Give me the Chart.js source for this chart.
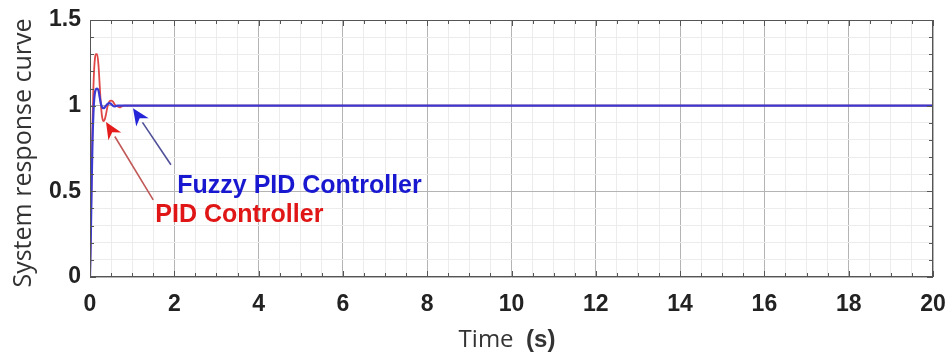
<!DOCTYPE html>
<html><head><meta charset="utf-8">
<script src="https://cdn.jsdelivr.net/npm/chart.js@4.4.1/dist/chart.umd.min.js"></script>
<style>html,body{margin:0;padding:0;background:#fff}#wrap{width:951px;height:356px}</style>
</head><body><div id="wrap"><canvas id="c" width="951" height="356"></canvas></div>
<script>
// ---- data ----
const time = [0, 0.02, 0.04, 0.06, 0.08, 0.1, 0.12, 0.14, 0.17, 0.2, 0.23, 0.26, 0.29, 0.32, 0.35, 0.38, 0.42, 0.46, 0.5, 0.54, 0.58, 0.62, 0.66, 0.7, 0.75, 0.8, 0.9, 1, 2, 20];
const pidResponse = [0, 0.3, 0.62, 0.9, 1.1, 1.22, 1.28, 1.3, 1.3, 1.24, 1.12, 1.0, 0.93, 0.91, 0.92, 0.95, 1.0, 1.025, 1.03, 1.025, 1.01, 1.0, 0.995, 0.99, 0.995, 1.0, 1.0, 1.0, 1.0, 1.0];
const fuzzyResponse = [0, 0.25, 0.55, 0.8, 0.95, 1.04, 1.08, 1.095, 1.1, 1.09, 1.05, 1.01, 0.99, 0.985, 0.99, 1.0, 1.01, 1.015, 1.01, 1.0, 0.995, 0.998, 1.0, 1.0, 1.0, 1.0, 1.0, 1.0, 1.0, 1.0];
const xTickLabels = [0, 2, 4, 6, 8, 10, 12, 14, 16, 18, 20];
const yTickLabels = [0, 0.5, 1, 1.5];
const seriesNames = ["PID Controller", "Fuzzy PID Controller"];
// annotation anchors (data coords): [tailX, tailY, headX, headY]
const fuzzyArrow = [1.92, 0.655, 1.02, 0.985];
const pidArrow = [1.5, 0.45, 0.38, 0.905];
const fuzzyLabelPos = [2.07, 0.53];
const pidLabelPos = [1.55, 0.36];

const pts = (ys) => time.map((t, i) => ({x: t, y: ys[i]}));
const isMajorX = v => xTickLabels.some(t => Math.abs(t - v) < 1e-6);
const isMajorY = v => yTickLabels.some(t => Math.abs(t - v) < 1e-6);

const TICK_FONT = {family: "'Liberation Sans', Arial, sans-serif", size: 23, weight: 'bold'};

function arrow(ctx, x1, y1, x2, y2, shaftColor, headColor) {
  const ang = Math.atan2(y2 - y1, x2 - x1);
  const hl = 17, hw = 7.5;
  const bx = x2 - hl * Math.cos(ang), by = y2 - hl * Math.sin(ang);
  ctx.save();
  ctx.strokeStyle = shaftColor; ctx.lineWidth = 1.6;
  ctx.beginPath(); ctx.moveTo(x1, y1); ctx.lineTo(bx, by); ctx.stroke();
  ctx.fillStyle = headColor;
  ctx.beginPath();
  ctx.moveTo(x2, y2);
  ctx.lineTo(bx + hw * Math.sin(ang), by - hw * Math.cos(ang));
  ctx.lineTo(bx + 5 * Math.cos(ang), by + 5 * Math.sin(ang));
  ctx.lineTo(bx - hw * Math.sin(ang), by + hw * Math.cos(ang));
  ctx.closePath(); ctx.fill();
  ctx.restore();
}

const decor = {
  id: 'decor',
  afterDraw(chart) {
    const {ctx, chartArea: a, scales: {x, y}} = chart;
    ctx.save();
    // frame
    ctx.strokeStyle = '#555'; ctx.lineWidth = 1;
    ctx.strokeRect(a.left + 0.5, a.top + 0.5, a.right - a.left - 1, a.bottom - a.top - 1);
    // inward ticks
    ctx.beginPath();
    for (let v = 0; v <= 20.0001; v += 0.5) {
      const px = Math.round(x.getPixelForValue(v)) + 0.5;
      const len = isMajorX(v) ? 6 : 4;
      ctx.moveTo(px, a.bottom); ctx.lineTo(px, a.bottom - len);
      ctx.moveTo(px, a.top); ctx.lineTo(px, a.top + len);
    }
    for (let i = 0; i <= 15; i++) {
      const v = i / 10;
      const py = Math.round(y.getPixelForValue(v)) + 0.5;
      const len = isMajorY(v) ? 6 : 4;
      ctx.moveTo(a.left, py); ctx.lineTo(a.left + len, py);
      ctx.moveTo(a.right, py); ctx.lineTo(a.right - len, py);
    }
    ctx.stroke();
    // arrows
    arrow(ctx, x.getPixelForValue(fuzzyArrow[0]), y.getPixelForValue(fuzzyArrow[1]),
          x.getPixelForValue(fuzzyArrow[2]), y.getPixelForValue(fuzzyArrow[3]), '#50509a', '#2424d8');
    arrow(ctx, x.getPixelForValue(pidArrow[0]), y.getPixelForValue(pidArrow[1]),
          x.getPixelForValue(pidArrow[2]), y.getPixelForValue(pidArrow[3]), '#c05858', '#e41c1c');
    // labels
    ctx.font = "bold 25px 'Liberation Sans', Arial, sans-serif";
    ctx.textBaseline = 'middle'; ctx.textAlign = 'left';
    ctx.fillStyle = '#1818d0';
    ctx.fillText(seriesNames[1], x.getPixelForValue(fuzzyLabelPos[0]), y.getPixelForValue(fuzzyLabelPos[1]));
    ctx.fillStyle = '#e01616';
    ctx.fillText(seriesNames[0], x.getPixelForValue(pidLabelPos[0]), y.getPixelForValue(pidLabelPos[1]));
    // x title: "Time  (s)"
    const cx = 507;
    const ty = 340;
    ctx.fillStyle = '#333';
    const regFont = "24px 'Open Sans', 'Liberation Sans', sans-serif";
    const boldFont = "bold 24px 'Liberation Sans', Arial, sans-serif";
    ctx.font = regFont;
    const t1 = 'Time  ';
    const w1 = ctx.measureText(t1).width;
    ctx.font = boldFont;
    const w2 = ctx.measureText('(s)').width;
    let sx = cx - (w1 + w2) / 2;
    ctx.font = regFont;
    ctx.fillText(t1, sx, ty);
    ctx.font = boldFont;
    ctx.fillText('(s)', sx + w1, ty);
    // y title
    ctx.save();
    ctx.translate(24, 153);
    ctx.rotate(-Math.PI / 2);
    ctx.textAlign = 'center';
    ctx.font = "25px 'Open Sans', 'Liberation Sans', sans-serif";
    ctx.fillText('System response curve', 0, 0);
    ctx.restore();
    ctx.restore();
  }
};

new Chart(document.getElementById('c'), {
  type: 'line',
  data: {
    datasets: [
      {label: seriesNames[0], data: pts(pidResponse), order: 1, borderColor: '#e04848', borderWidth: 1.8, pointRadius: 0, tension: 0.35, cubicInterpolationMode: 'monotone'},
      {label: seriesNames[1], data: pts(fuzzyResponse), order: 0, borderColor: '#3a3ad2', borderWidth: 2.2, pointRadius: 0, tension: 0.35, cubicInterpolationMode: 'monotone'}
    ]
  },
  options: {
    responsive: false, animation: false, events: [],
    layout: {padding: {left: 0, right: 18, top: 20, bottom: 0}},
    plugins: {legend: {display: false}, tooltip: {enabled: false}},
    scales: {
      x: {
        type: 'linear', min: 0, max: 20,
        afterBuildTicks: s => { s.ticks = []; for (let i = 0; i <= 40; i++) s.ticks.push({value: i * 0.5}); },
        ticks: {autoSkip: false, maxRotation: 0, padding: 14, color: '#222', font: TICK_FONT,
          callback: v => isMajorX(v) ? String(v) : ''},
        grid: {drawTicks: false, color: c => isMajorX(c.tick.value) ? '#b4b4b4' : '#ececec', lineWidth: 1},
        border: {display: false},
        afterFit: s => { s.height = 79; s.paddingLeft = 0; s.paddingRight = 0; }
      },
      y: {
        type: 'linear', min: 0, max: 1.5,
        afterBuildTicks: s => { s.ticks = []; for (let i = 0; i <= 15; i++) s.ticks.push({value: i / 10}); },
        ticks: {autoSkip: false, padding: 9, color: '#222', font: TICK_FONT,
          callback: v => isMajorY(v) ? String(Math.round(v * 10) / 10) : ''},
        grid: {drawTicks: false, color: c => isMajorY(c.tick.value) ? '#b4b4b4' : '#ececec', lineWidth: 1},
        border: {display: false},
        afterFit: s => { s.width = 90; s.paddingTop = 0; s.paddingBottom = 0; }
      }
    }
  },
  plugins: [decor]
});
</script></body></html>
